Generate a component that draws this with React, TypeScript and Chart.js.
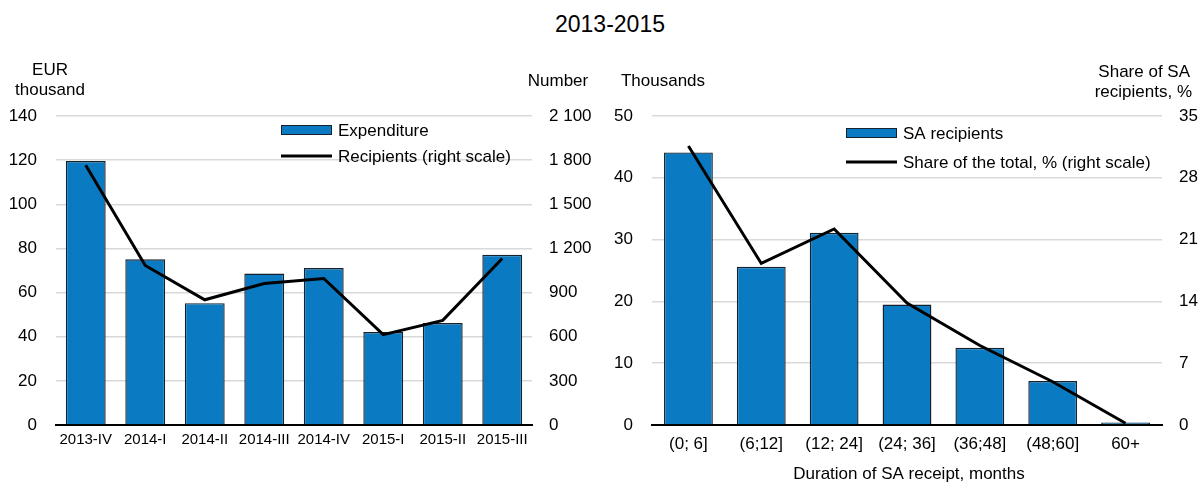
import React, { useEffect, useRef } from "react";
import { Chart, registerables } from "chart.js";

Chart.register(...registerables);

const FONT = "'Liberation Sans', Arial, sans-serif";

// Left panel data
const quarters = ["2013-IV", "2014-I", "2014-II", "2014-III", "2014-IV", "2015-I", "2015-II", "2015-III"];
const expenditure = [119.6, 75.1, 55.2, 68.6, 71.1, 42.1, 46.2, 77.1];
const recipients = [1766, 1084, 851, 962, 996, 614, 711, 1131];

// Right panel data
const durations = ["(0; 6]", "(6;12]", "(12; 24]", "(24; 36]", "(36;48]", "(48;60]", "60+"];
const saRecipients = [44.1, 25.6, 31.1, 19.5, 12.5, 7.1, 0.4];
const shareOfTotal = [31.6, 18.3, 22.2, 13.8, 9.0, 4.9, 0.2];

const BAR_FILL = "#0A7BC2";
const BAR_BORDER = "#15222e";
const GRID = "#d9d9d9";

const fmtSpace = (v: number) => String(v).replace(/\B(?=(\d{3})+(?!\d))/g, " ");

type TextItem = { text: string; x: number; y: number; align: CanvasTextAlign };
type LegendItem = { kind: "bar" | "line"; text: string; x: number; y: number };

function overlayPlugin(texts: TextItem[], legend: LegendItem[]) {
  return {
    id: "overlay",
    afterDraw(chart: any) {
      const ctx = chart.ctx as CanvasRenderingContext2D;
      ctx.save();
      ctx.fillStyle = "#000";
      ctx.font = `17px ${FONT}`;
      ctx.textBaseline = "middle";
      for (const t of texts) {
        ctx.textAlign = t.align;
        ctx.fillText(t.text, t.x, t.y);
      }
      for (const l of legend) {
        if (l.kind === "bar") {
          ctx.fillStyle = BAR_FILL;
          ctx.fillRect(l.x, l.y - 5, 51, 10);
          ctx.strokeStyle = BAR_BORDER;
          ctx.lineWidth = 1;
          ctx.strokeRect(l.x + 0.5, l.y - 4.5, 50, 9);
        } else {
          ctx.strokeStyle = "#000";
          ctx.lineWidth = 3;
          ctx.beginPath();
          ctx.moveTo(l.x, l.y);
          ctx.lineTo(l.x + 51, l.y);
          ctx.stroke();
        }
        ctx.fillStyle = "#000";
        ctx.textAlign = "left";
        ctx.fillText(l.text, l.x + 57, l.y + 1);
      }
      ctx.restore();
    },
  };
}

function makeConfig(opts: {
  labels: string[];
  bars: number[];
  line: number[];
  barLabel: string;
  lineLabel: string;
  yMax: number;
  yStep: number;
  y1Max: number;
  y1Step: number;
  leftWidth: number;
  rightWidth: number;
  xFont: number;
  xPad: number;
  y1Fmt: (v: number) => string;
  texts: TextItem[];
  legend: LegendItem[];
}): any {
  return {
    type: "bar",
    data: {
      labels: opts.labels,
      datasets: [
        {
          type: "line",
          label: opts.lineLabel,
          data: opts.line,
          yAxisID: "y1",
          borderColor: "#000",
          borderWidth: 3,
          pointRadius: 0,
          tension: 0,
          fill: false,
          order: 0,
        },
        {
          type: "bar",
          label: opts.barLabel,
          data: opts.bars,
          yAxisID: "y",
          backgroundColor: BAR_FILL,
          borderColor: BAR_BORDER,
          borderWidth: 1.4,
          borderSkipped: "bottom",
          categoryPercentage: 1,
          barPercentage: 0.67,
          order: 1,
        },
      ],
    },
    options: {
      responsive: false,
      animation: false,
      layout: { padding: { top: 116, left: 0, right: 0, bottom: 0 } },
      plugins: { legend: { display: false }, tooltip: { enabled: false }, title: { display: false } },
      scales: {
        x: {
          grid: { display: false, drawTicks: false },
          border: { display: true, color: "#000", width: 2 },
          ticks: { color: "#000", font: { size: opts.xFont, family: FONT }, padding: opts.xPad, maxRotation: 0, autoSkip: false },
          afterFit: (s: any) => { s.height = 58; },
        },
        y: {
          position: "left",
          min: 0,
          max: opts.yMax,
          grid: { color: GRID, lineWidth: 1.5, drawTicks: false },
          border: { display: false },
          ticks: { stepSize: opts.yStep, color: "#000", font: { size: 17, family: FONT }, padding: 19 },
          afterFit: (s: any) => { s.width = opts.leftWidth; },
        },
        y1: {
          position: "right",
          min: 0,
          max: opts.y1Max,
          grid: { display: false, drawTicks: false },
          border: { display: false },
          ticks: { stepSize: opts.y1Step, color: "#000", font: { size: 17, family: FONT }, padding: 17, callback: (v: any) => opts.y1Fmt(Number(v)) },
          afterFit: (s: any) => { s.width = opts.rightWidth; },
        },
      },
    },
    plugins: [overlayPlugin(opts.texts, opts.legend)],
  };
}

export default function App() {
  const leftRef = useRef<HTMLCanvasElement>(null);
  const rightRef = useRef<HTMLCanvasElement>(null);

  useEffect(() => {
    Chart.defaults.font.family = FONT;
    Chart.defaults.color = "#000";
    const left = new Chart(
      leftRef.current!,
      makeConfig({
        labels: quarters,
        bars: expenditure,
        line: recipients,
        barLabel: "Expenditure",
        lineLabel: "Recipients (right scale)",
        yMax: 140,
        yStep: 20,
        y1Max: 2100,
        y1Step: 300,
        leftWidth: 56,
        rightWidth: 68,
        xFont: 15,
        xPad: 6,
        y1Fmt: fmtSpace,
        texts: [
          { text: "EUR", x: 50, y: 70, align: "center" },
          { text: "thousand", x: 50, y: 90, align: "center" },
          { text: "Number", x: 558, y: 81, align: "center" },
        ],
        legend: [
          { kind: "bar", text: "Expenditure", x: 281, y: 130 },
          { kind: "line", text: "Recipients (right scale)", x: 281, y: 156 },
        ],
      })
    );
    const right = new Chart(
      rightRef.current!,
      makeConfig({
        labels: durations,
        bars: saRecipients,
        line: shareOfTotal,
        barLabel: "SA recipients",
        lineLabel: "Share of the total, % (right scale)",
        yMax: 50,
        yStep: 10,
        y1Max: 35,
        y1Step: 7,
        leftWidth: 52,
        rightWidth: 37,
        xFont: 17,
        xPad: 9,
        y1Fmt: (v: number) => String(v),
        texts: [
          { text: "Thousands", x: 63, y: 81, align: "center" },
          { text: "Share of SA", x: 590, y: 72, align: "right" },
          { text: "recipients, %", x: 592, y: 92, align: "right" },
          { text: "Duration of SA receipt, months", x: 309, y: 474, align: "center" },
        ],
        legend: [
          { kind: "bar", text: "SA recipients", x: 246, y: 133 },
          { kind: "line", text: "Share of the total, % (right scale)", x: 246, y: 162 },
        ],
      })
    );
    return () => {
      left.destroy();
      right.destroy();
    };
  }, []);

  return (
    <div style={{ position: "absolute", left: 0, top: 0, width: 1199, height: 483, background: "#fff", overflow: "hidden" }}>
      <div
        style={{
          position: "absolute",
          left: 0,
          top: 10,
          width: 1220,
          textAlign: "center",
          fontFamily: FONT,
          fontSize: 23,
          lineHeight: "28px",
          color: "#000",
        }}
      >
        2013-2015
      </div>
      <canvas ref={leftRef} width={600} height={483} style={{ position: "absolute", left: 0, top: 0, display: "block" }} />
      <canvas ref={rightRef} width={599} height={483} style={{ position: "absolute", left: 600, top: 0, display: "block" }} />
    </div>
  );
}
